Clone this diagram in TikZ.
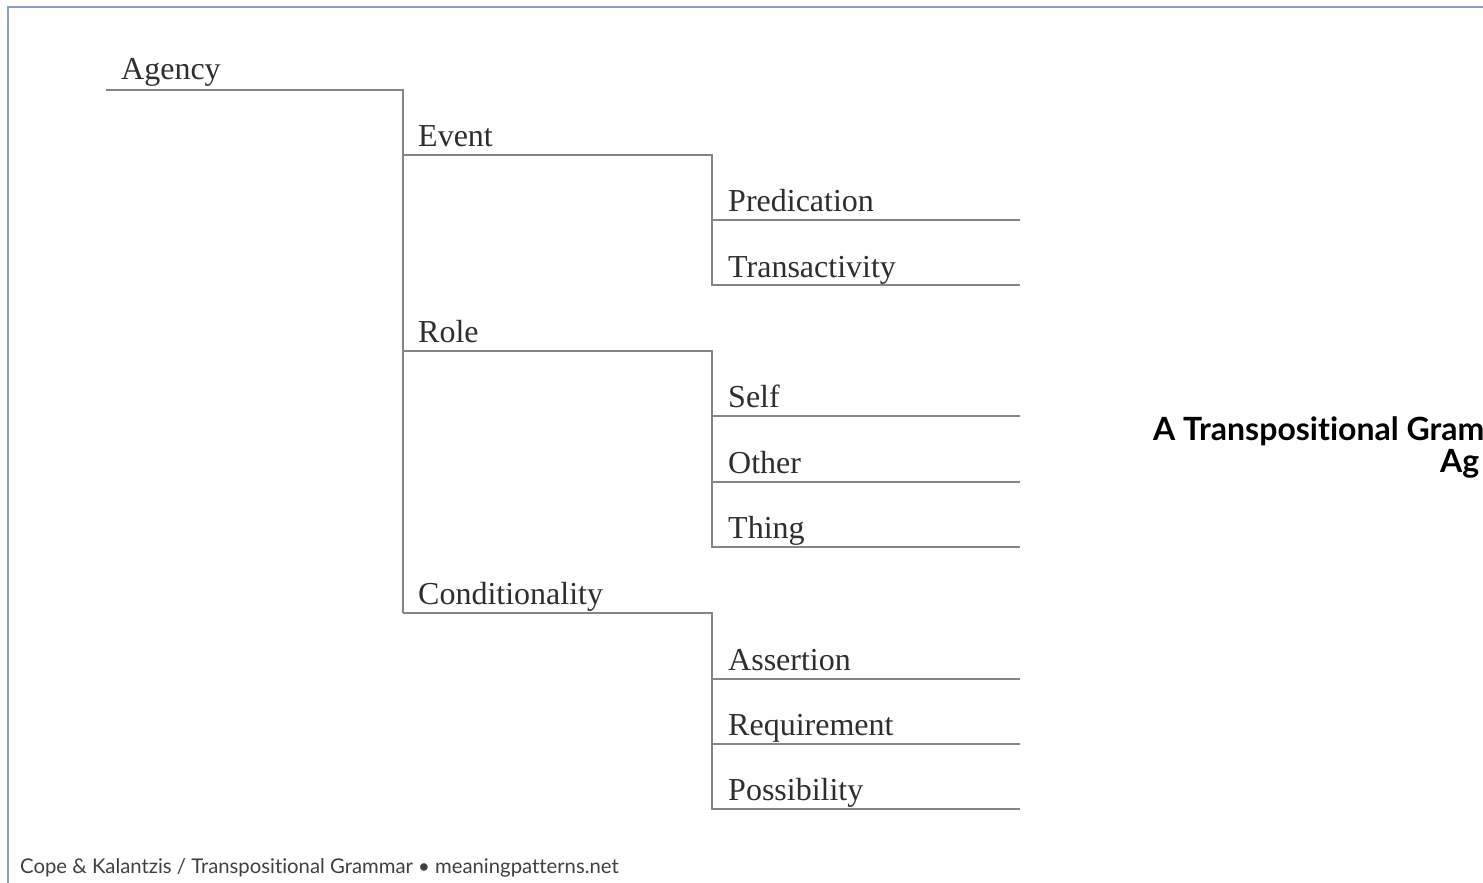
\documentclass[tikz,border=0pt]{standalone}
\usepackage{fontspec}
\setmainfont{Liberation Serif}
\newfontfamily\headfont[Ligatures=NoCommon]{Lato}
\definecolor{framecol}{RGB}{140,158,205}
\begin{document}
\begin{tikzpicture}[x=1pt,y=-1pt,
  branch/.style={draw=black!48, line width=1.8pt},
  term/.style={anchor=base west, inner sep=0pt, text=black!82,
    font=\fontsize{32}{36}\selectfont},
  heading/.style={anchor=base west, inner sep=0pt, text=black,
    font=\headfont\bfseries\fontsize{32}{36}\selectfont},
  frameline/.style={draw=framecol, line width=2pt}]
\useasboundingbox (0,0) rectangle (1483,883);
\fill[white] (0,0) rectangle (1483,883);
% outer frame (top and left edges)
\draw[frameline] (8,883) -- (8,7) -- (1483,7);

% corners of the tree
\coordinate (r0) at (106,90);
\coordinate (r1) at (403,90);
\coordinate (k1) at (403,613);
\coordinate (e0) at (403,155);
\coordinate (e1) at (712,155);
\coordinate (e2) at (712,285);
\coordinate (o0) at (403,351);
\coordinate (o1) at (712,351);
\coordinate (o2) at (712,547);
\coordinate (c0) at (403,613);
\coordinate (c1) at (712,613);
\coordinate (c2) at (712,809);
\coordinate (p1) at (1020,220);
\coordinate (t1) at (1020,285);
\coordinate (s0) at (712,416);
\coordinate (s1) at (1020,416);
\coordinate (h0) at (712,482);
\coordinate (h1) at (1020,482);
\coordinate (g1) at (1020,547);
\coordinate (a0) at (712,679);
\coordinate (a1) at (1020,679);
\coordinate (q0) at (712,744);
\coordinate (q1) at (1020,744);
\coordinate (b1) at (1020,809);
\coordinate (pp0) at (712,220);

% labels
\node[term] (agency) at (121,80) {Agency};
\node[term] (event) at (418,146) {Event};
\node[term] (role) at (418,342) {Role};
\node[term] (cond) at (418,604) {Conditionality};
\node[term] (pred) at (728,211) {Predication};
\node[term] (trans) at (728,277) {Transactivity};
\node[term] (self) at (728,407) {Self};
\node[term] (other) at (728,473) {Other};
\node[term] (thing) at (728,538) {Thing};
\node[term] (assert) at (728,670) {Assertion};
\node[term] (req) at (728,735) {Requirement};
\node[term] (poss) at (728,800) {Possibility};

% branches
\draw[branch] (r0) -- (r1) -- (k1);
\draw[branch] (e0) -- (e1) -- (e2) -- (t1);
\draw[branch] (pp0) -- (p1);
\draw[branch] (o0) -- (o1) -- (o2) -- (g1);
\draw[branch] (s0) -- (s1);
\draw[branch] (h0) -- (h1);
\draw[branch] (c0) -- (c1) -- (c2) -- (b1);
\draw[branch] (a0) -- (a1);
\draw[branch] (q0) -- (q1);

% heading, running off the right edge
\begin{scope}
\clip (0,0) rectangle (1483,883);
\node[heading] (title1) at (1153,440) {A Transpositional Gram};
\node[heading] (title2) at (1440,472) {Ag};
\end{scope}

% footer
\node[anchor=base west, inner sep=0pt, text=black!75,
  font=\headfont\fontsize{20.3}{24}\selectfont] (foot) at (20,873)
  {Cope \& Kalantzis / Transpositional Grammar • meaningpatterns.net};
\end{tikzpicture}
\end{document}
